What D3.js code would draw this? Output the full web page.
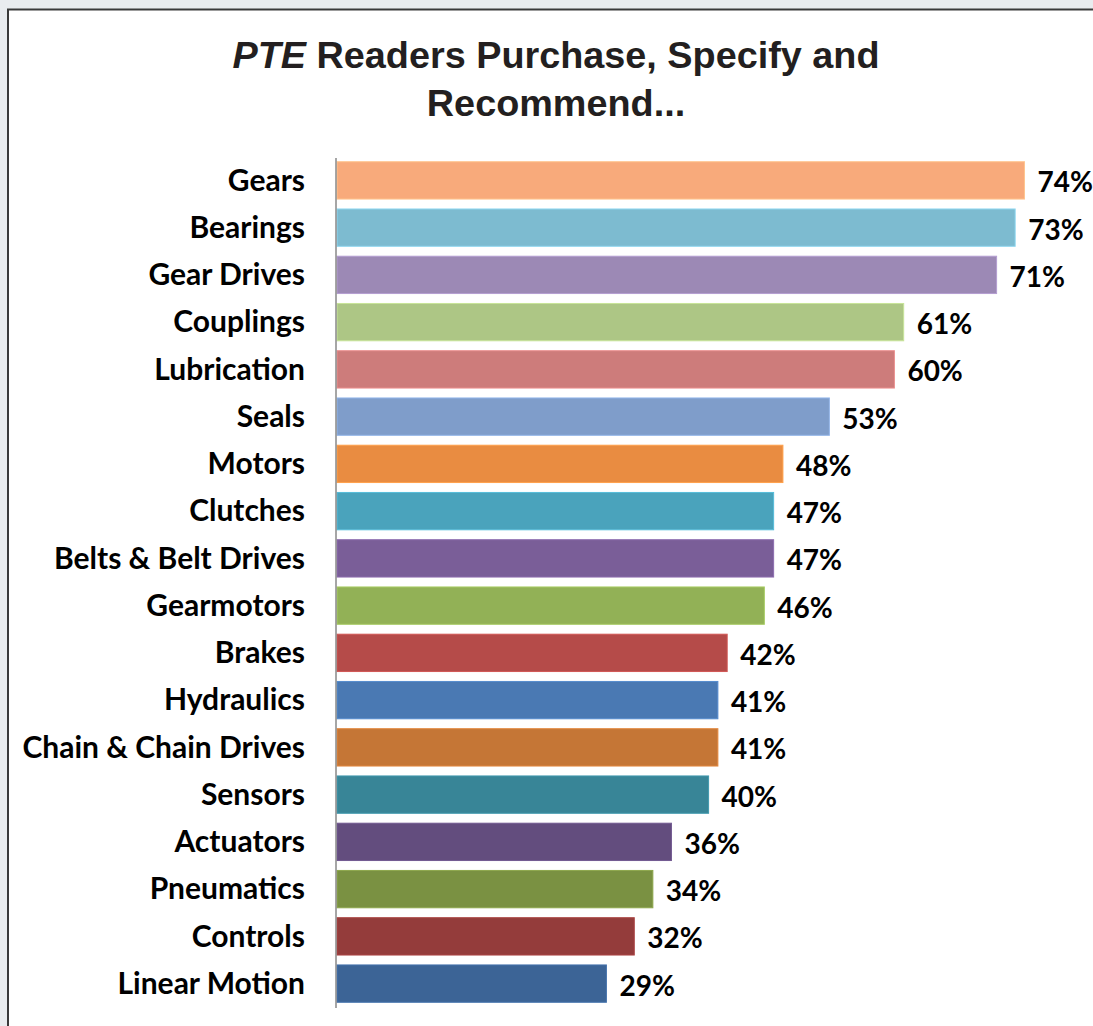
<!DOCTYPE html>
<html><head><meta charset="utf-8">
<script src="https://cdn.jsdelivr.net/npm/d3@7"></script>
<style>html,body{margin:0;padding:0;background:#e9ecef;}svg{display:block;}</style>
</head><body>
<script>
const categories = ["Gears","Bearings","Gear Drives","Couplings","Lubrication","Seals","Motors","Clutches","Belts & Belt Drives","Gearmotors","Brakes","Hydraulics","Chain & Chain Drives","Sensors","Actuators","Pneumatics","Controls","Linear Motion"];
const values = [74,73,71,61,60,53,48,47,47,46,42,41,41,40,36,34,32,29];
const colors = ["#F8AA7B","#7DBBD0","#9C89B5","#ADC685","#CD7C7B","#7F9DCA","#E98C41","#4AA3BC","#7A5E98","#92B156","#B54B49","#4A79B3","#C57636","#388597","#634D7E","#7A9142","#943C3B","#3C6496"];

const W = 1093, H = 1026;
const svg = d3.select("body").append("svg").attr("width", W).attr("height", H);
svg.append("rect").attr("x",0).attr("y",0).attr("width",W).attr("height",H).attr("fill","#e9ecef");
svg.append("rect").attr("x",8).attr("y",9.5).attr("width",W+20).attr("height",H+20).attr("fill","#fff").attr("stroke","#3a3a3a").attr("stroke-width",2);

const x = d3.scaleLinear().domain([0,100]).range([337, 337+929]);
const y = d3.scaleBand().domain(categories).range([157, 1007]).paddingInner(0.21).paddingOuter(0.1);

// title
const tf = 37.8;
const t = svg.append("text").attr("x",556).attr("y",68).attr("text-anchor","middle")
  .attr("font-family","Liberation Sans, Arial, sans-serif").attr("font-weight","bold").attr("font-size",tf).attr("fill","#231f20");
t.append("tspan").attr("font-style","italic").text("PTE");
t.append("tspan").text(" Readers Purchase, Specify and");
svg.append("text").attr("x",556).attr("y",116).attr("text-anchor","middle")
  .attr("font-family","Liberation Sans, Arial, sans-serif").attr("font-weight","bold").attr("font-size",tf).attr("fill","#231f20")
  .text("Recommend...");

const data = categories.map((c,i)=>({c, v: values[i], col: colors[i]}));

svg.selectAll("rect.bar").data(data).join("rect").attr("class","bar")
  .attr("x", x(0)).attr("y", d=>y(d.c)).attr("width", d=>x(d.v)-x(0)).attr("height", y.bandwidth())
  .attr("fill", d=>d.col).attr("stroke", d=>d3.color(d.col).brighter(0.4)).attr("stroke-width",1);

// axis
const axis = d3.axisLeft(y).tickSize(0).tickPadding(31);
const g = svg.append("g").attr("transform",`translate(${x(0)-1},0)`).call(axis);
g.select(".domain").attr("stroke","#888").attr("stroke-width",1.5).attr("d","M0,158V1008");
g.selectAll("text").attr("font-family","Lato, Open Sans, sans-serif").attr("font-weight","bold").attr("font-size",30).attr("fill","#000").attr("dy","0.34em");

svg.selectAll("text.val").data(data).join("text").attr("class","val")
  .attr("x", d=>x(d.v)+13).attr("y", d=>y(d.c)+y.bandwidth()/2+12)
  .attr("font-family","Lato, Open Sans, sans-serif").attr("font-weight","bold").attr("font-size",28).attr("fill","#000")
  .text(d=>d.v+"%");
</script>
</body></html>
